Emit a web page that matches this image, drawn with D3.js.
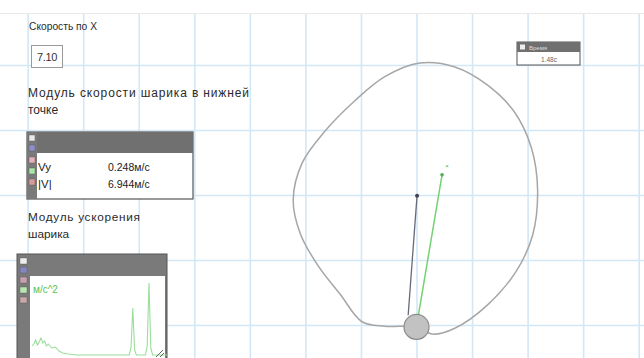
<!DOCTYPE html>
<html>
<head>
<meta charset="utf-8">
<script src="https://cdn.jsdelivr.net/npm/d3@7"></script>
<style>
  html, body { margin: 0; padding: 0; background: #fff; }
  svg { display: block; font-family: "Liberation Sans", Arial, sans-serif; }
</style>
</head>
<body>
<svg id="chart" width="644" height="358"></svg>
<script>
// Ball trajectory (grid units; ball resting point near 0,0)
const pathU = [0.01, -0.57, -0.98, -1.38, -1.77, -2.09, -2.22, -2.06, -1.65, -1.11, -0.57, 0.06, 0.69, 1.28, 1.76, 2.07, 2.18, 2.09, 1.79, 1.28, 0.69, 0.28];
const pathV = [-0.03, -0.02, 0.05, 0.48, 0.91, 1.40, 1.92, 2.49, 2.98, 3.45, 3.82, 4.03, 3.97, 3.69, 3.28, 2.72, 2.08, 1.38, 0.82, 0.31, -0.05, -0.14];

// Ball position and velocity / acceleration vectors (grid units)
const ball = { u: 0, v: -0.03 };
const velocityVec = { u0: -0.15, v0: 0.15, u1: 0.01, v1: 1.99 };
const accelVec = { u0: 0.01, v0: 0.03, u1: 0.46, v1: 2.31 };
const accelTip = { u: 0.55, v: 2.45 };

// Grid lines
const gridU = [-7, -6, -5, -4, -3, -2, -1, 0, 1, 2, 3, 4];
const gridV = [0, 1, 2, 3, 4];

// Panel texts
const speedXLabel = "Скорость по X";
const speedXValue = "7.10";
const speedTitle = ["Модуль скорости шарика в нижней", "точке"];
const tableNames = ["Vy", "|V|"];
const tableValues = ["0.248м/с", "6.944м/с"];
const accelTitle = ["Модуль ускорения", "шарика"];
const accelUnit = "м/с^2";
const timeValue = "1.48с";
const timeName = "Время";

// Acceleration modulus over time
const accT = [0.00, 0.02, 0.04, 0.06, 0.08, 0.10, 0.12, 0.14, 0.16, 0.18, 0.22, 0.26, 0.30, 0.34, 0.40, 0.50, 0.60, 0.70, 0.80, 0.90, 1.00, 1.08, 1.10, 1.12, 1.14, 1.16, 1.20, 1.26, 1.28, 1.30, 1.32, 1.34, 1.40, 1.50];
const accA = [12, 14, 18, 13, 16, 20, 15, 17, 12, 14, 10, 11, 7, 5, 4, 3, 3, 3, 3, 3, 3, 3, 10, 50, 8, 3, 3, 3, 12, 75, 10, 3, 3, 3];

const svg = d3.select("#chart");
const W = 644, H = 358;

const x = d3.scaleLinear().domain([0, 1]).range([416.5, 472.05]);
const y = d3.scaleLinear().domain([0, 1]).range([325, 260]);

// background grid
const gridColor = "#d3e7f5";
const gx = svg.append("g").attr("transform", `translate(0,${H})`)
  .call(d3.axisBottom(x).tickValues(gridU).tickSize(-H).tickFormat(""));
const gy = svg.append("g")
  .call(d3.axisLeft(y).tickValues(gridV).tickSize(-W).tickFormat(""));
[gx, gy].forEach(g => {
  g.select(".domain").remove();
  g.selectAll(".tick line").attr("stroke", gridColor).attr("stroke-width", 1.6);
});

// top band
svg.append("rect").attr("x", 0).attr("y", 0).attr("width", W).attr("height", 13).attr("fill", "#fff");
svg.append("line").attr("x1", 0).attr("x2", W).attr("y1", 13.5).attr("y2", 13.5)
  .attr("stroke", "#e8e8e8").attr("stroke-width", 1);

// trajectory
const pts = pathU.map((u, i) => [x(u), y(pathV[i])]);
svg.append("path")
  .attr("d", d3.line().curve(d3.curveCatmullRomClosed.alpha(0.5))(pts))
  .attr("fill", "none").attr("stroke", "#a6a6a6").attr("stroke-width", 1.5);

// velocity vector
svg.append("line")
  .attr("x1", x(velocityVec.u0)).attr("y1", y(velocityVec.v0))
  .attr("x2", x(velocityVec.u1)).attr("y2", y(velocityVec.v1))
  .attr("stroke", "#666b7c").attr("stroke-width", 1.3);
svg.append("circle").attr("cx", x(velocityVec.u1)).attr("cy", y(velocityVec.v1)).attr("r", 2)
  .attr("fill", "#3f4250");

// acceleration vector
svg.append("line")
  .attr("x1", x(accelVec.u0)).attr("y1", y(accelVec.v0))
  .attr("x2", x(accelVec.u1)).attr("y2", y(accelVec.v1))
  .attr("stroke", "#74d274").attr("stroke-width", 1.5);
svg.append("circle").attr("cx", x(accelVec.u1)).attr("cy", y(accelVec.v1)).attr("r", 1.8)
  .attr("fill", "#4caf50");
svg.append("text").attr("x", x(accelTip.u)).attr("y", y(accelTip.v) + 2)
  .attr("text-anchor", "middle").attr("font-size", 6).attr("fill", "#4caf50").text("×");

// ball
svg.append("circle").attr("cx", x(ball.u)).attr("cy", y(ball.v)).attr("r", 12.5)
  .attr("fill", "#c2c2c2").attr("stroke", "#8c8c8c").attr("stroke-width", 1.2);

// ---- left panel ----
const txt = (s, px, py, size = 11, fill = "#2a2a2a") =>
  svg.append("text").attr("x", px).attr("y", py).attr("font-size", size).attr("fill", fill).text(s);

txt(speedXLabel, 29, 30, 11).attr("textLength", 68).attr("lengthAdjust", "spacingAndGlyphs");
svg.append("rect").attr("x", 31.5).attr("y", 45.5).attr("width", 31).attr("height", 22)
  .attr("fill", "#fff").attr("stroke", "#9a9a9a");
svg.append("text").attr("x", 47).attr("y", 60.5).attr("text-anchor", "middle")
  .attr("font-size", 11).attr("fill", "#333").attr("letter-spacing", -0.3).text(speedXValue);

txt(speedTitle[0], 28, 97, 12).attr("textLength", 221).attr("lengthAdjust", "spacing");
txt(speedTitle[1], 28, 114, 12);

// value table widget
const tb = { x: 27, y: 132, w: 166, h: 67 };
svg.append("rect").attr("x", tb.x).attr("y", tb.y).attr("width", tb.w).attr("height", tb.h)
  .attr("fill", "#fff").attr("stroke", "#555").attr("stroke-width", 1.2);
svg.append("rect").attr("x", tb.x).attr("y", tb.y).attr("width", tb.w).attr("height", 21).attr("fill", "#707070");
svg.append("rect").attr("x", tb.x).attr("y", tb.y).attr("width", 10).attr("height", tb.h).attr("fill", "#7a7a7a");
const tbSw = [["#e8e8e8", 135], ["#8f8fc9", 145], ["#e8b0b8", 157], ["#a6e6a6", 168], ["#d99a9a", 179]];
tbSw.forEach(([c, yy]) => svg.append("rect").attr("x", tb.x + 2).attr("y", yy).attr("width", 6).attr("height", 6)
  .attr("fill", c).attr("stroke", "#555").attr("stroke-width", 0.4));
tableNames.forEach((n, i) => {
  txt(n, 38, 171 + i * 17, 11.5, "#222");
  txt(tableValues[i], 108, 171 + i * 17, 10.5, "#222");
});

txt(accelTitle[0], 28, 221, 11.8).attr("textLength", 112).attr("lengthAdjust", "spacing");
txt(accelTitle[1], 28, 238, 11.8);

// acceleration graph widget
const gw = { x: 17, y: 254, w: 150, h: 110 };
svg.append("rect").attr("x", gw.x).attr("y", gw.y).attr("width", gw.w).attr("height", gw.h)
  .attr("fill", "#7a7a7a").attr("stroke", "#555");
svg.append("rect").attr("x", gw.x + 13).attr("y", gw.y + 22).attr("width", gw.w - 15).attr("height", gw.h)
  .attr("fill", "#fff");
const gwSw = [["#eeeeee", 258], ["#8585c2", 267], ["#c9a0b0", 277], ["#b8e8b0", 287], ["#c9a8a8", 297]];
gwSw.forEach(([c, yy]) => svg.append("rect").attr("x", gw.x + 3).attr("y", yy).attr("width", 7).attr("height", 6)
  .attr("fill", c).attr("stroke", "#555").attr("stroke-width", 0.4));

const tx = d3.scaleLinear().domain([0, 1.5]).range([32, 167]);
const ay = d3.scaleLinear().domain([0, 75]).range([358, 283]);
svg.append("path")
  .attr("d", d3.line().x((d, i) => tx(accT[i])).y(d => ay(d))(accA))
  .attr("fill", "none").attr("stroke", "#9ade9a").attr("stroke-width", 1.1);
txt(accelUnit, 33, 293, 10, "#55c455");
// resize grip
svg.append("path").attr("d", "M156,357 L163,350 M160,357 L164,353")
  .attr("stroke", "#666").attr("stroke-width", 1).attr("fill", "none");

// time display widget
const tw = { x: 517, y: 42, w: 63, h: 23 };
svg.append("rect").attr("x", tw.x).attr("y", tw.y).attr("width", tw.w).attr("height", tw.h)
  .attr("fill", "#fff").attr("stroke", "#555");
svg.append("rect").attr("x", tw.x).attr("y", tw.y).attr("width", tw.w).attr("height", 10).attr("fill", "#707070");
svg.append("rect").attr("x", tw.x + 3).attr("y", tw.y + 2.5).attr("width", 5).attr("height", 5).attr("fill", "#eee");
svg.append("text").attr("x", tw.x + 12).attr("y", tw.y + 8).attr("font-size", 6).attr("fill", "#ddd").text(timeName);
svg.append("text").attr("x", tw.x + 32).attr("y", tw.y + 20).attr("text-anchor", "middle")
  .attr("font-size", 6.5).attr("fill", "#666").text(timeValue);
</script>
</body>
</html>
